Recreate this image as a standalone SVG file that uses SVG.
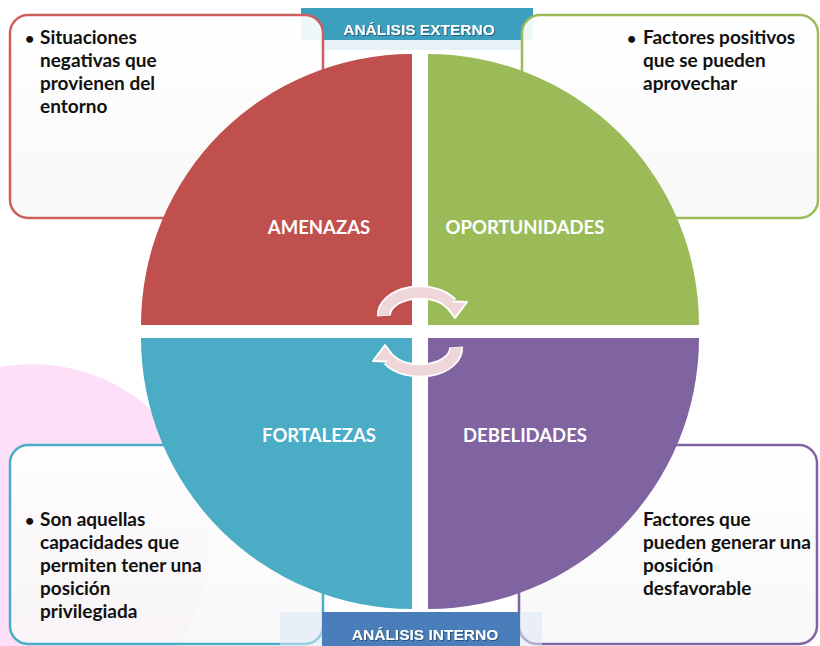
<svg xmlns="http://www.w3.org/2000/svg" width="820" height="646" viewBox="0 0 820 646">
<defs>
<filter id="sh" x="-10%" y="-30%" width="120%" height="160%">
<feDropShadow dx="1" dy="1" stdDeviation="0.6" flood-color="#1b3f52" flood-opacity="0.7"/>
</filter>
<linearGradient id="boxfill" x1="0" y1="0" x2="0" y2="1">
<stop offset="0" stop-color="#ffffff" stop-opacity="0.92"/>
<stop offset="1" stop-color="#f7f7f7" stop-opacity="0.88"/>
</linearGradient>
</defs>
<style>
.box{fill:url(#boxfill);stroke-width:2.5}
.body{font-family:Lato,"Open Sans","Liberation Sans",sans-serif;font-weight:bold;font-size:19px;fill:#111}
.bul{font-family:Lato,"Open Sans","Liberation Sans",sans-serif;font-weight:bold;font-size:16px;fill:#111}
.q{font-family:Lato,"Open Sans","Liberation Sans",sans-serif;font-weight:bold;font-size:18.5px;fill:#fff;text-anchor:middle}
.ban{font-family:"Liberation Sans",Arial,sans-serif;font-weight:bold;font-size:15.5px;fill:#fff;text-anchor:middle;filter:url(#sh)}
.arrowWhite{fill:none;stroke:#fff;stroke-width:14}
.arrowPink{fill:none;stroke:#efd7d9;stroke-width:10.5}
.head{fill:#efd7d9;stroke:#fff;stroke-width:2;stroke-linejoin:round}
</style>
<rect width="820" height="646" fill="#fff"/>
<circle cx="32" cy="542" r="178" fill="#fde0f7"/>
<g id="banner-externo">
<rect x="301" y="40" width="232" height="10" fill="#e6f2f7"/>
<rect x="301" y="8" width="232" height="32" fill="#3b9fbd"/>
</g>
<g id="box-amenazas">
<rect class="box" x="10" y="15" width="313" height="203" rx="18" stroke="#cf5f5d"/>
<text class="bul" x="25" y="44">•</text>
<text class="body" x="40" y="44">Situaciones</text>
<text class="body" x="40" y="67">negativas que</text>
<text class="body" x="40" y="90">provienen del</text>
<text class="body" x="40" y="113">entorno</text>
</g>
<g id="box-oportunidades">
<rect class="box" x="522" y="15" width="296" height="203" rx="18" stroke="#9bbb59"/>
<text class="bul" x="627" y="44">•</text>
<text class="body" x="643" y="44">Factores positivos</text>
<text class="body" x="643" y="67">que se pueden</text>
<text class="body" x="643" y="90">aprovechar</text>
</g>
<g id="box-fortalezas">
<rect class="box" x="10" y="445" width="313" height="199" rx="18" stroke="#4bacc6"/>
<text class="bul" x="25" y="526">•</text>
<text class="body" x="40" y="526">Son aquellas</text>
<text class="body" x="40" y="549">capacidades que</text>
<text class="body" x="40" y="572">permiten tener una</text>
<text class="body" x="40" y="595">posición</text>
<text class="body" x="40" y="618">privilegiada</text>
</g>
<g id="box-debilidades">
<rect class="box" x="519" y="445" width="298" height="199" rx="18" stroke="#8064a2"/>
<text class="body" x="643" y="526">Factores que</text>
<text class="body" x="643" y="549">pueden generar una</text>
<text class="body" x="643" y="572">posición</text>
<text class="body" x="643" y="595">desfavorable</text>
</g>
<g id="banner-interno">
<rect x="280" y="612" width="262" height="34" fill="#dbe7f4" opacity="0.55"/>
<rect x="322" y="612" width="198" height="34" fill="#4a7ebb"/>
<text class="ban" x="425" y="640">ANÁLISIS INTERNO</text>
</g>
<g id="q-amenazas">
<path d="M412,325 L412,54 A271,271 0 0 0 141,325 Z" fill="#c0504d"/>
<text class="q" x="319" y="234">AMENAZAS</text>
</g>
<g id="q-oportunidades">
<path d="M428,325 L428,54 A271,271 0 0 1 699,325 Z" fill="#9bbb59"/>
<text class="q" x="525" y="234">OPORTUNIDADES</text>
</g>
<g id="q-fortalezas">
<path d="M412,338 L141,338 A271,271 0 0 0 412,609 Z" fill="#4bacc6"/>
<text class="q" x="319" y="442">FORTALEZAS</text>
</g>
<g id="q-debilidades">
<path d="M428,338 L699,338 A271,271 0 0 1 428,609 Z" fill="#8064a2"/>
<text class="q" x="525" y="442">DEBELIDADES</text>
</g>
<g id="connectors">
<g id="arrow-top">
<path class="arrowWhite" d="M384,316 A36,22.5 0 0 1 451,303.5"/>
<polygon class="head" points="442,301 467,302 455,318"/>
<path class="arrowPink" d="M384,315.5 A36,22.5 0 0 1 451,303.5"/>
</g>
<g id="arrow-bottom" transform="rotate(180 420 331.5)">
<path class="arrowWhite" d="M384,316 A36,22.5 0 0 1 451,303.5"/>
<polygon class="head" points="442,301 467,302 455,318"/>
<path class="arrowPink" d="M384,315.5 A36,22.5 0 0 1 451,303.5"/>
</g>
</g>
<text class="ban" x="419" y="35">ANÁLISIS EXTERNO</text>
</svg>
